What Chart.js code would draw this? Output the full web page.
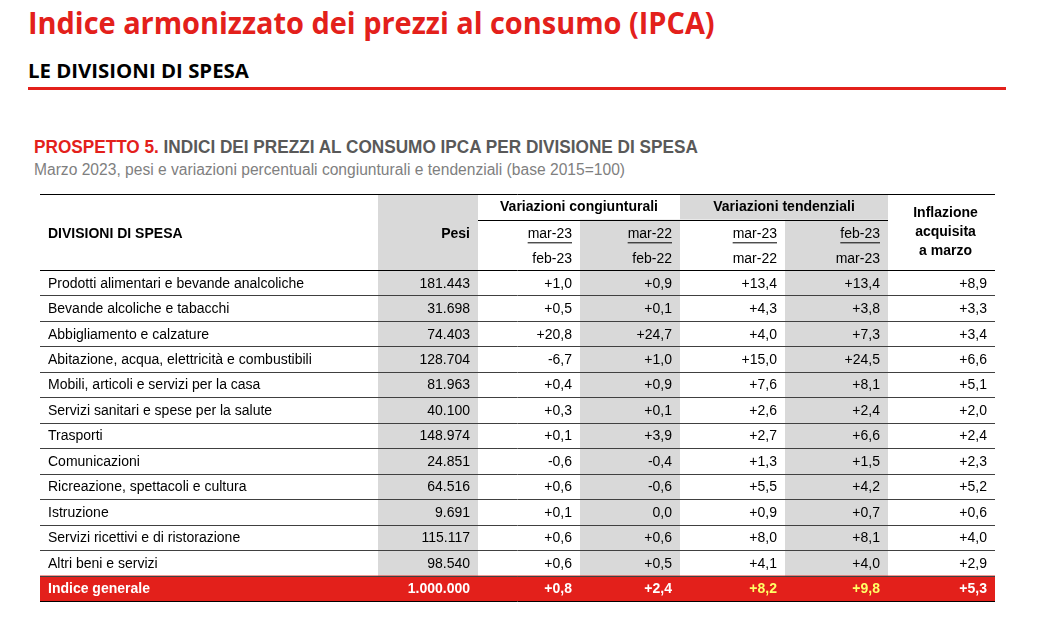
<!DOCTYPE html>
<html><head><meta charset="utf-8">
<script src="https://cdn.jsdelivr.net/npm/chart.js@4"></script>
<style>
  body{margin:0;background:#fff;width:1041px;height:623px;overflow:hidden;position:relative;font-family:"Liberation Sans",Arial,sans-serif;}
  .t{position:absolute;white-space:nowrap;transform-origin:0 0;}
  #title{left:28px;top:2px;font-family:"Open Sans",sans-serif;font-weight:700;font-size:29.5px;color:#e3201b;transform:scaleX(0.98);}
  #sub{left:28px;top:57px;font-family:"Open Sans",sans-serif;font-weight:700;font-size:20px;color:#000;transform:scaleX(1.02);}
  #rule{position:absolute;left:28px;top:87px;width:978px;height:3px;background:#e3201b;}
  #pros{left:34px;top:137px;font-family:"Liberation Sans",sans-serif;font-weight:700;font-size:18px;color:#595959;transform:scaleX(0.955);}
  #pros b{color:#e3201b;}
  #note{left:34px;top:161px;font-family:"Liberation Sans",sans-serif;font-size:16px;color:#7f7f7f;transform:scaleX(0.975);}
  canvas{position:absolute;left:0;top:0;}
</style></head>
<body>
<div class="t" id="title">Indice armonizzato dei prezzi al consumo (IPCA)</div>
<div class="t" id="sub">LE DIVISIONI DI SPESA</div>
<div id="rule"></div>
<div class="t" id="pros"><b>PROSPETTO 5.</b> INDICI DEI PREZZI AL CONSUMO IPCA PER DIVISIONE DI SPESA</div>
<div class="t" id="note">Marzo 2023, pesi e variazioni percentuali congiunturali e tendenziali (base 2015=100)</div>
<div style="position:absolute;left:0;top:0;width:1041px;height:623px"><canvas id="c"></canvas></div>
<script>
// ---- data ----
const divisions = ['Prodotti alimentari e bevande analcoliche','Bevande alcoliche e tabacchi','Abbigliamento e calzature',
  'Abitazione, acqua, elettricità e combustibili','Mobili, articoli e servizi per la casa','Servizi sanitari e spese per la salute',
  'Trasporti','Comunicazioni','Ricreazione, spettacoli e cultura','Istruzione','Servizi ricettivi e di ristorazione',
  'Altri beni e servizi','Indice generale'];
const pesi      = [181443,31698,74403,128704,81963,40100,148974,24851,64516,9691,115117,98540,1000000];
const congMar23 = [1.0,0.5,20.8,-6.7,0.4,0.3,0.1,-0.6,0.6,0.1,0.6,0.6,0.8];
const congMar22 = [0.9,0.1,24.7,1.0,0.9,0.1,3.9,-0.4,-0.6,0.0,0.6,0.5,2.4];
const tendMar23 = [13.4,4.3,4.0,15.0,7.6,2.6,2.7,1.3,5.5,0.9,8.0,4.1,8.2];
const tendFeb23 = [13.4,3.8,7.3,24.5,8.1,2.4,6.6,1.5,4.2,0.7,8.1,4.0,9.8];
const inflAcq   = [8.9,3.3,3.4,6.6,5.1,2.0,2.4,2.3,5.2,0.6,4.0,2.9,5.3];
const colHeads  = ['Pesi','mar-23','mar-22','mar-23','feb-23'];
const colSubs   = ['','feb-23','feb-22','mar-22','mar-23'];

// ---- layout (column edges, x-scale units) ----
const EDGES = [0,338,438,540,640,745,848,955];
const GREY = '#d9d9d9', RED = '#e3201b';

const fmtVar = v => v === 0 ? '0,0' : (v > 0 ? '+' : '-') + Math.abs(v).toFixed(1).replace('.', ',');
const fmtPeso = v => String(v).replace(/\B(?=(\d{3})+(?!\d))/g, '.');

const tablePlugin = {
  id:'table',
  afterDraw(chart){
    const {ctx, scales:{x, y}} = chart;
    const px = i => x.getPixelForValue(EDGES[i]);
    const rh = Math.abs(y.getPixelForValue(1) - y.getPixelForValue(0));
    const top = i => y.getPixelForValue(i) - rh/2;
    const bottom = top(divisions.length);
    const hTop = top(0) - 3*rh + 0.5, h1 = hTop + rh, h2 = top(0) - rh;
    const L = px(0), R = px(7);
    ctx.save();
    // grey columns
    ctx.fillStyle = GREY;
    ctx.fillRect(px(1), hTop, px(2)-px(1), bottom-hTop);
    ctx.fillRect(px(3), h1, px(4)-px(3), bottom-h1);
    ctx.fillRect(px(4), hTop, px(6)-px(4), h1-hTop);
    ctx.fillRect(px(5), h1, px(6)-px(5), bottom-h1);
    // total row
    const last = divisions.length-1;
    ctx.fillStyle = RED;
    ctx.fillRect(L, top(last), R-L, rh);
    // lines
    ctx.lineWidth = 1;
    const hl = (x0,x1,yy,c) => {ctx.strokeStyle=c||'#000';ctx.beginPath();ctx.moveTo(x0,Math.round(yy)+.5);ctx.lineTo(x1,Math.round(yy)+.5);ctx.stroke();};
    hl(L,R,hTop); hl(px(2),px(6),h1); hl(L,R,top(0));
    for(let i=1;i<=last;i++) hl(L,R,top(i),'#404040');
    hl(L,R,bottom);
    // headers
    ctx.fillStyle = '#000';
    ctx.font = 'bold 14px "Liberation Sans",sans-serif';
    ctx.textBaseline = 'middle';
    ctx.textAlign = 'left';
    ctx.fillText('DIVISIONI DI SPESA', L+8, h1+rh/2+2);
    ctx.textAlign = 'right';
    ctx.fillText(colHeads[0], px(2)-8, h1+rh/2+2);
    ctx.textAlign = 'center';
    ctx.fillText('Variazioni congiunturali', (px(2)+px(4))/2, hTop+rh/2);
    ctx.fillText('Variazioni tendenziali', (px(4)+px(6))/2, hTop+rh/2);
    ctx.fillText('Inflazione', (px(6)+px(7))/2+4, hTop+rh/2+6);
    ctx.fillText('acquisita', (px(6)+px(7))/2+4, hTop+rh/2+25);
    ctx.fillText('a marzo', (px(6)+px(7))/2+4, hTop+rh/2+44);
    ctx.font = '14px "Liberation Sans",sans-serif';
    for(let c=1;c<5;c++){
      const xr = px(c+2)-8;
      ctx.textAlign='right';
      ctx.fillText(colHeads[c], xr, h1+rh/2+2);
      const w = ctx.measureText(colHeads[c]).width;
      ctx.fillRect(xr-w, h1+rh/2+10, w, 1);
      ctx.fillText(colSubs[c], xr, h2+rh/2+2);
    }
    // body
    const cols = [pesi.map(fmtPeso), congMar23.map(fmtVar), congMar22.map(fmtVar), tendMar23.map(fmtVar), tendFeb23.map(fmtVar), inflAcq.map(fmtVar)];
    divisions.forEach((d,i)=>{
      const cy = y.getPixelForValue(i)+1;
      const tot = i===last;
      ctx.font = (tot?'bold ':'') + '14px "Liberation Sans",Arial,sans-serif';
      ctx.fillStyle = tot ? '#fff' : '#000';
      ctx.textAlign='left';
      ctx.fillText(d, L+8, cy);
      ctx.textAlign='right';
      cols.forEach((col,c)=>{
        ctx.fillStyle = tot ? ((c===3||c===4) ? '#ffff66' : '#fff') : '#000';
        ctx.fillText(col[i], px(c+2)-8, cy);
      });
    });
    ctx.restore();
  }
};

new Chart(document.getElementById('c'), {
  type:'bar',
  data:{ labels: divisions, datasets:[{ data: divisions.map(()=>null) }] },
  options:{
    responsive:true, maintainAspectRatio:false, animation:false,
    indexAxis:'y',
    layout:{ padding:{ left:40, right:46, top:270, bottom:22 } },
    plugins:{ legend:{display:false}, tooltip:{enabled:false} },
    scales:{
      x:{ type:'linear', min:0, max:955, display:false },
      y:{ type:'category', display:false, offset:true }
    }
  },
  plugins:[tablePlugin]
});
</script>
</body></html>
